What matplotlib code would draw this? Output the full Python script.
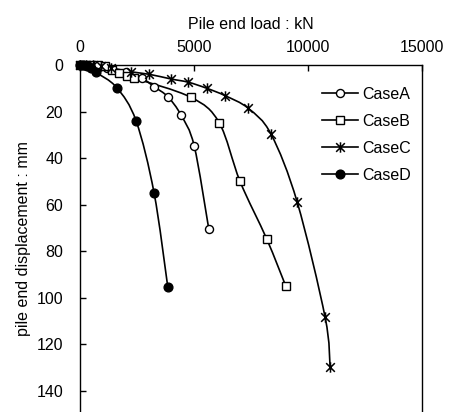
import numpy as np
import matplotlib
matplotlib.use('Agg')
import matplotlib.pyplot as plt
from matplotlib.path import Path
from matplotlib.patches import PathPatch
from matplotlib.lines import Line2D

plt.rcParams['font.family'] = ['Liberation Sans', 'DejaVu Sans']

# ── Data (load kN, displacement mm) ───────────────────────────────────────────
load_a = [0, 250, 500, 800, 1200, 2000, 2700, 3260, 3850, 4430, 5010, 5650]
disp_a = [0, 0.1, 0.3, 0.6, 1.2, 3.0, 5.5, 9.4, 13.6, 21.5, 34.8, 70.5]

load_b = [0, 250, 500, 800, 1100, 1390, 1720, 2050, 2370, 4870, 6100, 7020, 8190, 9020]
disp_b = [0, 0.0, 0.1, 0.2, 0.4, 2.1, 3.3, 4.7, 5.6, 13.9, 24.7, 50.0, 74.7, 94.8]

load_c = [0, 250, 580, 900, 1360, 2220, 3040, 3990, 4750, 5560, 6370, 7380, 8380,
          9530, 10750, 10970]
disp_c = [0, 0.0, 0.0, 0.4, 1.2, 2.9, 4.0, 6.0, 7.4, 10.0, 13.2, 18.6, 29.7,
          59.0, 108.3, 129.7]

load_d = [0, 150, 300, 500, 700, 1610, 2460, 3250, 3850]
disp_d = [0, 0.1, 0.4, 1.2, 3.1, 9.7, 24.0, 55.0, 95.3]

labels = ["CaseA", "CaseB", "CaseC", "CaseD"]

# asterisk marker: X with a vertical bar (Excel style)
star = Path([(-1, -1), (1, 1), (-1, 1), (1, -1), (0, -1.2), (0, 1.2)],
            [Path.MOVETO, Path.LINETO, Path.MOVETO, Path.LINETO, Path.MOVETO, Path.LINETO])


def smooth_path(xs, ys):
    """Excel-like smoothed line: cubic Bezier through the points."""
    p = np.column_stack([xs, ys]).astype(float)
    n = len(p)
    verts = [p[0]]
    codes = [Path.MOVETO]
    for i in range(n - 1):
        p0 = p[max(i - 1, 0)]
        p1, p2 = p[i], p[i + 1]
        p3 = p[min(i + 2, n - 1)]
        c1 = p1 + (p2 - p0) / 6.0
        c2 = p2 - (p3 - p1) / 6.0
        verts += [c1, c2, p2]
        codes += [Path.CURVE4] * 3
    return Path(verts, codes)


# ── Figure ────────────────────────────────────────────────────────────────────
fig = plt.figure(figsize=(4.5, 4.12), dpi=100, facecolor='white')
ax = fig.add_axes([80 / 450, 0.0, 342 / 450, 347 / 412])

lw = 1.2
styles = [
    dict(marker='o', ms=5.8, mfc='white', mec='black', mew=1.0),
    dict(marker='s', ms=6.3, mfc='white', mec='black', mew=1.0),
    dict(marker=star, ms=7.5, mfc='none', mec='black', mew=1.1),
    dict(marker='o', ms=6.3, mfc='black', mec='black', mew=1.0),
]
series = [(load_a, disp_a), (load_b, disp_b), (load_c, disp_c), (load_d, disp_d)]

handles = []
for (xs, ys), st, lab in zip(series, styles, labels):
    ax.add_patch(PathPatch(smooth_path(xs, ys), facecolor='none',
                           edgecolor='black', lw=lw, zorder=2))
    ax.plot(xs, ys, ls='none', zorder=3, clip_on=False, **st)
    handles.append(Line2D([], [], color='black', lw=lw, **st))

ax.set_xlim(0, 15000)
ax.set_ylim(149, 0)
ax.set_xticks([0, 5000, 10000, 15000])
ax.set_yticks(np.arange(0, 141, 20))

ax.xaxis.tick_top()
ax.xaxis.set_label_position('top')
ax.tick_params(axis='x', direction='in', length=4, width=1, labelsize=11.5, pad=7,
               top=True, bottom=False)
ax.tick_params(axis='y', direction='in', length=4, width=1, labelsize=11.5, pad=12)
ax.spines['bottom'].set_visible(False)
for s in ('left', 'top', 'right'):
    ax.spines[s].set_linewidth(1.0)

ax.set_xlabel("Pile end load : kN", fontsize=11.5, labelpad=8)
ax.set_ylabel("pile end displacement : mm", fontsize=11.5, labelpad=4)

ax.legend(handles, labels, loc='upper left', bbox_to_anchor=(0.69, 0.955),
          frameon=False, fontsize=11.5, handlelength=2.2, handletextpad=0.3,
          labelspacing=0.75, borderaxespad=0)

fig.savefig("out.png", dpi=100, facecolor='white')
